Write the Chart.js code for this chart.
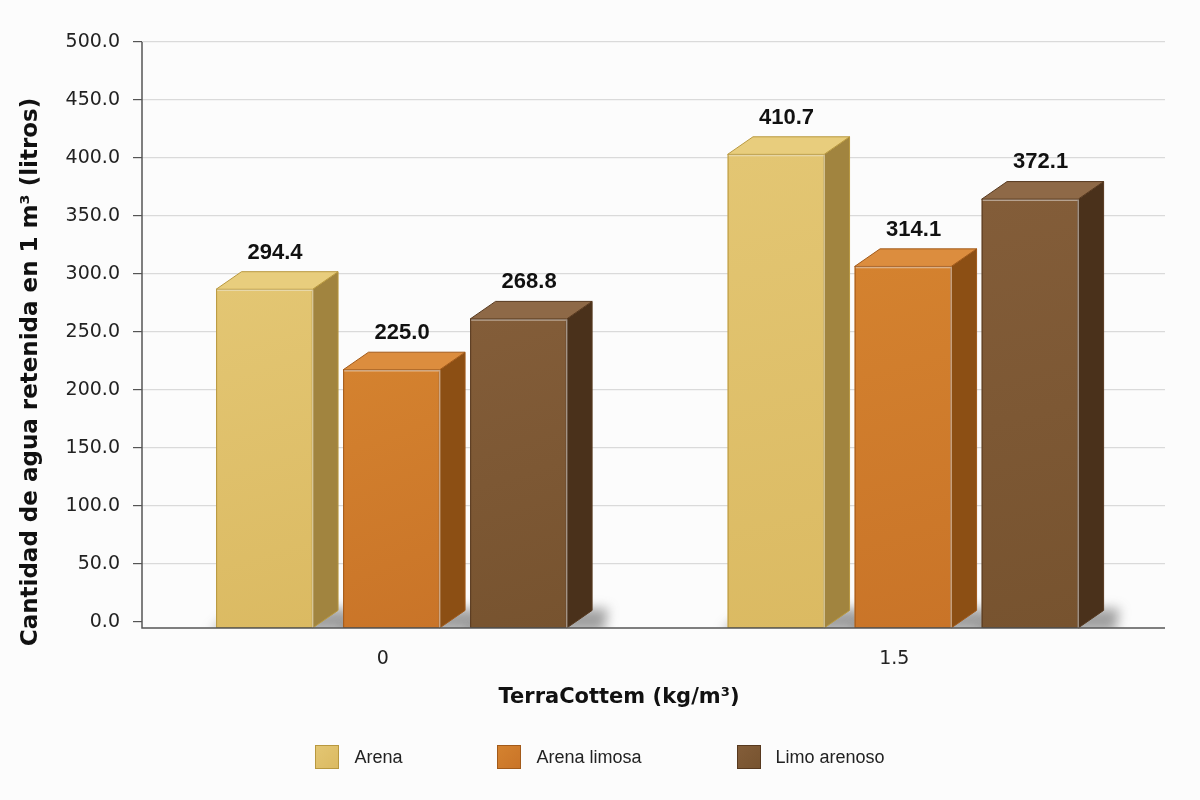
<!DOCTYPE html>
<html>
<head>
<meta charset="utf-8">
<script src="https://cdn.jsdelivr.net/npm/chart.js@4.4.1/dist/chart.umd.min.js"></script>
<style>
  body { margin: 0; background: #fcfcfc; }
  #wrap { position: relative; width: 1200px; height: 800px; }
  #legend {
    position: absolute; left: 0; top: 745px; width: 1200px;
    display: flex; justify-content: center; gap: 95px;
    font-family: "Liberation Sans", Arial, sans-serif; font-size: 18px; color: #222;
  }
  .item { display: flex; align-items: center; height: 24px; }
  .box { width: 24px; height: 24px; margin-right: 15px; box-sizing: border-box; border: 1px solid; }
</style>
</head>
<body>
<div id="wrap">
  <canvas id="soilChart" width="1200" height="800"></canvas>
  <div id="legend"></div>
</div>
<script>
const categories = ['0', '1.5'];
const seriesNames = ['Arena', 'Arena limosa', 'Limo arenoso'];
const arena = [294.4, 410.7];
const arenaLimosa = [225.0, 314.1];
const limoArenoso = [268.8, 372.1];
const yTicks = [0, 50, 100, 150, 200, 250, 300, 350, 400, 450, 500];

// front / top / side shades for the fake 3D blocks
const faces = [
    { front: '#dbba62', light: '#e3c673', top: '#e8cd7d', side: '#a1843f', edge: '#b8983f' },
    { front: '#c97428', light: '#d4822f', top: '#dc8d3e', side: '#8c4f14', edge: '#a25a1a' },
    { front: '#77532f', light: '#835d39', top: '#8e6947', side: '#4a311b', edge: '#57391f' }
];

const bars3d = {
    id: 'bars3d',
    beforeDatasetsDraw(chart) {
        const { ctx, chartArea } = chart;
        const floor = chartArea.bottom + 6;
        const blocks = [];

        chart.data.datasets.forEach((ds, i) => {
            chart.getDatasetMeta(i).data.forEach((bar) => {
                const w = bar.width;
                const fl = bar.x - 0.43 * w;
                const fw = 0.76 * w;
                blocks.push({ i, fl, fr: fl + fw, dx: 0.2 * w, dy: 8.8, y: bar.y });
            });
        });

        // soft floor shadows
        blocks.forEach(b => {
            ctx.save();
            ctx.beginPath();
            ctx.rect(chartArea.left, chartArea.top, chartArea.right - chartArea.left, floor - chartArea.top);
            ctx.clip();
            ctx.filter = 'blur(6px)';
            ctx.fillStyle = 'rgba(70,70,70,0.5)';
            ctx.beginPath();
            ctx.moveTo(b.fl - 6, floor + 4);
            ctx.lineTo(b.fr + b.dx + 12, floor + 4);
            ctx.lineTo(b.fr + b.dx + 16, floor - 2 * b.dy - 2);
            ctx.lineTo(b.fl + b.dx - 4, floor - 2 * b.dy - 2);
            ctx.closePath();
            ctx.fill();
            ctx.restore();
        });

        blocks.forEach(b => {
            const c = faces[b.i];
            const topFront = b.y + b.dy;
            const topBack = b.y - b.dy;
            ctx.save();
            ctx.lineWidth = 1;
            ctx.strokeStyle = c.edge;

            // front
            let g = ctx.createLinearGradient(b.fl, topFront, b.fr, floor);
            g.addColorStop(0, c.light);
            g.addColorStop(1, c.front);
            ctx.fillStyle = g;
            ctx.fillRect(b.fl, topFront, b.fr - b.fl, floor - topFront);
            ctx.strokeRect(b.fl + 0.5, topFront + 0.5, b.fr - b.fl - 1, floor - topFront - 1);

            // side
            ctx.fillStyle = c.side;
            ctx.beginPath();
            ctx.moveTo(b.fr, topFront);
            ctx.lineTo(b.fr + b.dx, topBack);
            ctx.lineTo(b.fr + b.dx, floor - 2 * b.dy);
            ctx.lineTo(b.fr, floor);
            ctx.closePath();
            ctx.fill();
            ctx.stroke();

            // top
            ctx.fillStyle = c.top;
            ctx.beginPath();
            ctx.moveTo(b.fl, topFront);
            ctx.lineTo(b.fr, topFront);
            ctx.lineTo(b.fr + b.dx, topBack);
            ctx.lineTo(b.fl + b.dx, topBack);
            ctx.closePath();
            ctx.fill();
            ctx.stroke();

            // highlight on the front top edge
            ctx.strokeStyle = 'rgba(255,255,255,0.45)';
            ctx.lineWidth = 1.5;
            ctx.beginPath();
            ctx.moveTo(b.fl + 1, topFront + 1);
            ctx.lineTo(b.fr, topFront + 1);
            ctx.lineTo(b.fr, floor);
            ctx.stroke();
            ctx.restore();
        });
        return false;
    },
    afterDraw(chart) {
        const { ctx, chartArea } = chart;
        const floor = chartArea.bottom + 6;
        ctx.save();

        // axis lines
        ctx.strokeStyle = '#555';
        ctx.lineWidth = 1.5;
        ctx.beginPath();
        ctx.moveTo(chartArea.left, chartArea.top);
        ctx.lineTo(chartArea.left, floor);
        ctx.lineTo(chartArea.right, floor);
        ctx.stroke();

        // value labels
        ctx.fillStyle = '#111';
        ctx.font = 'bold 22px "Liberation Sans", Arial, sans-serif';
        ctx.textAlign = 'center';
        ctx.textBaseline = 'middle';
        chart.data.datasets.forEach((ds, i) => {
            chart.getDatasetMeta(i).data.forEach((bar, j) => {
                const w = bar.width;
                const cx = bar.x - 0.43 * w + 0.48 * w - 2;
                ctx.fillText(ds.data[j].toFixed(1), cx, bar.y - 28);
            });
        });

        // axis titles
        ctx.font = 'bold 21px "DejaVu Sans", sans-serif';
        ctx.fillText('TerraCottem (kg/m³)', 619, 698);
        ctx.translate(31, 372);
        ctx.rotate(-Math.PI / 2);
        ctx.font = 'bold 23px "DejaVu Sans", sans-serif';
        ctx.fillText('Cantidad de agua retenida en 1 m³ (litros)', 0, 0);
        ctx.restore();
    }
};

const tickFont = { family: 'DejaVu Sans', size: 19 };

new Chart(document.getElementById('soilChart'), {
    type: 'bar',
    data: {
        labels: categories,
        datasets: [
            { label: seriesNames[0], data: arena, backgroundColor: faces[0].front },
            { label: seriesNames[1], data: arenaLimosa, backgroundColor: faces[1].front },
            { label: seriesNames[2], data: limoArenoso, backgroundColor: faces[2].front }
        ]
    },
    options: {
        responsive: false,
        animation: false,
        categoryPercentage: 0.745,
        barPercentage: 1,
        layout: { padding: { top: 42, right: 35, bottom: 100, left: 0 } },
        plugins: { legend: { display: false } },
        scales: {
            x: {
                grid: { display: false, drawTicks: false },
                border: { display: false },
                ticks: { padding: 26, labelOffset: -15, font: tickFont, color: '#222' },
                afterFit: s => { s.height = 78; }
            },
            y: {
                min: 0,
                max: 500,
                afterBuildTicks: s => { s.ticks = yTicks.map(v => ({ value: v })); },
                grid: {
                    color: c => (c.tick && c.tick.value === 0) ? 'rgba(0,0,0,0)' : '#dadada',
                    tickColor: '#555',
                    tickLength: 9,
                    lineWidth: 1.2
                },
                border: { display: false },
                ticks: { padding: 13, font: tickFont, color: '#222', callback: v => v.toFixed(1) },
                afterFit: s => { s.width = 142; }
            }
        }
    },
    plugins: [bars3d]
});

// html legend
const legendEl = document.getElementById('legend');
seriesNames.forEach((name, i) => {
    const item = document.createElement('div');
    item.className = 'item';
    const box = document.createElement('span');
    box.className = 'box';
    box.style.background = 'linear-gradient(135deg,' + faces[i].light + ',' + faces[i].front + ')';
    box.style.borderColor = faces[i].edge;
    const txt = document.createElement('span');
    txt.textContent = name;
    item.appendChild(box);
    item.appendChild(txt);
    legendEl.appendChild(item);
});
</script>
</body>
</html>
